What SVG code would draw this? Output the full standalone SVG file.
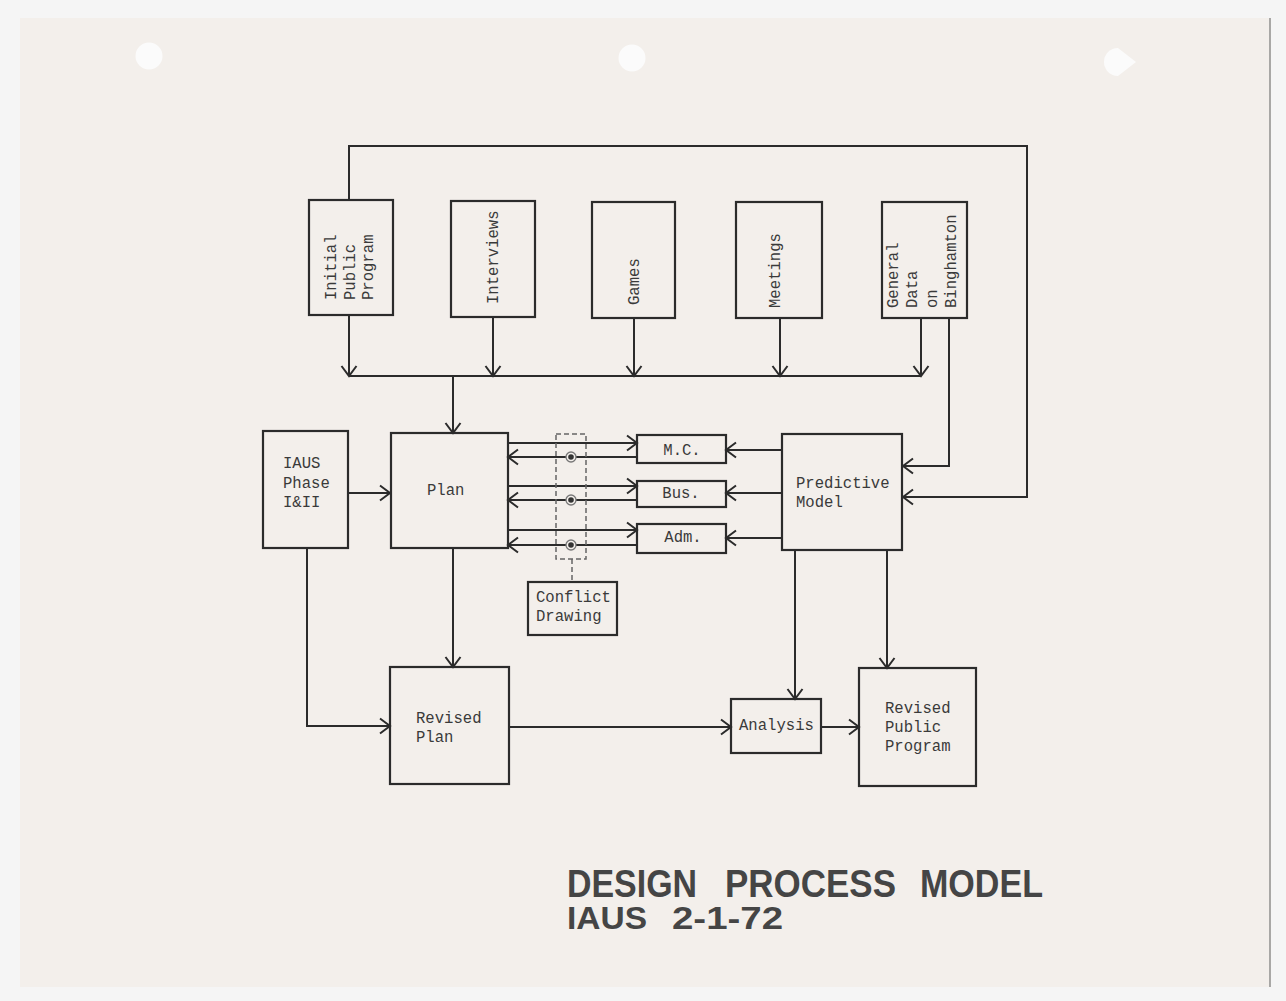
<svg xmlns="http://www.w3.org/2000/svg" width="1286" height="1001" viewBox="0 0 1286 1001">
<defs>
<marker id="arr" markerUnits="userSpaceOnUse" markerWidth="24" markerHeight="24" viewBox="-12 -12 24 24" refX="0" refY="0" orient="auto">
<path d="M-10,-7.5 L0,0 L-10,7.5" fill="none" stroke="#2b2b2b" stroke-width="2"/>
</marker>
</defs>
<style>
.box{fill:none;stroke:#2b2b2b;stroke-width:2.2}
.ln{fill:none;stroke:#2b2b2b;stroke-width:2}
.ar{marker-end:url(#arr)}
.dash{fill:none;stroke:#666;stroke-width:1.5;stroke-dasharray:5 3}
.t{font-family:"Liberation Mono","DejaVu Sans Mono",monospace;font-size:15.6px;fill:#3a3a3a}
.title{font-family:"Liberation Sans",Arial,sans-serif;font-weight:bold;fill:#454545}
</style>
<rect x="0" y="0" width="1286" height="1001" fill="#f5f5f5"/>
<rect x="20" y="18" width="1251" height="969" fill="#f3efeb"/>
<line x1="1270" y1="18" x2="1270" y2="987" stroke="#777" stroke-width="1.2"/>
<circle cx="149" cy="56" r="13.5" fill="#fbfbfb"/>
<circle cx="632" cy="58" r="13.5" fill="#fbfbfb"/>
<path d="M1118,48 A14,14 0 1 0 1118,76 L1136,62 Z" fill="#fbfbfb"/>

<g id="connectors">
<polyline class="ln ar" points="349,200 349,146 1027,146 1027,497 903,497"/>
<polyline class="ln ar" points="949,318 949,466 903,466"/>
<line class="ln ar" x1="349" y1="315" x2="349" y2="376"/>
<line class="ln ar" x1="493" y1="317" x2="493" y2="376"/>
<line class="ln ar" x1="634" y1="318" x2="634" y2="376"/>
<line class="ln ar" x1="780" y1="318" x2="780" y2="376"/>
<line class="ln ar" x1="921" y1="318" x2="921" y2="376"/>
<line class="ln" x1="349" y1="376" x2="921" y2="376"/>
<line class="ln ar" x1="453" y1="376" x2="453" y2="433"/>
<line class="ln ar" x1="348" y1="493" x2="390" y2="493"/>
<line class="ln ar" x1="508" y1="443" x2="637" y2="443"/>
<line class="ln ar" x1="637" y1="457" x2="508" y2="457"/>
<line class="ln ar" x1="508" y1="486" x2="637" y2="486"/>
<line class="ln ar" x1="637" y1="500" x2="508" y2="500"/>
<line class="ln ar" x1="508" y1="530" x2="637" y2="530"/>
<line class="ln ar" x1="637" y1="545" x2="508" y2="545"/>
<line class="ln ar" x1="782" y1="450" x2="726" y2="450"/>
<line class="ln ar" x1="782" y1="493" x2="726" y2="493"/>
<line class="ln ar" x1="782" y1="538" x2="726" y2="538"/>
<rect class="dash" x="556" y="434" width="30" height="125"/>
<line class="dash" x1="572" y1="559" x2="572" y2="582"/>
<g fill="#f3efeb" stroke="#777" stroke-width="1.3">
<circle cx="571" cy="457" r="5"/>
<circle cx="571" cy="500" r="5"/>
<circle cx="571" cy="545" r="5"/>
</g>
<g fill="#333">
<circle cx="571" cy="457" r="2.8"/>
<circle cx="571" cy="500" r="2.8"/>
<circle cx="571" cy="545" r="2.8"/>
</g>
<line class="ln ar" x1="453" y1="548" x2="453" y2="667"/>
<polyline class="ln ar" points="307,548 307,726 390,726"/>
<line class="ln ar" x1="509" y1="727" x2="731" y2="727"/>
<line class="ln ar" x1="821" y1="727" x2="859" y2="727"/>
<line class="ln ar" x1="795" y1="550" x2="795" y2="699"/>
<line class="ln ar" x1="887" y1="550" x2="887" y2="668"/>
</g>

<g id="initial-public-program">
<rect class="box" x="309" y="200" width="84" height="115"/>
<text class="t" transform="translate(336,300) rotate(-90)">Initial</text>
<text class="t" transform="translate(355,300) rotate(-90)">Public</text>
<text class="t" transform="translate(373,300) rotate(-90)">Program</text>
</g>
<g id="interviews">
<rect class="box" x="451" y="201" width="84" height="116"/>
<text class="t" transform="translate(498,304) rotate(-90)">Interviews</text>
</g>
<g id="games">
<rect class="box" x="592" y="202" width="83" height="116"/>
<text class="t" transform="translate(639,305) rotate(-90)">Games</text>
</g>
<g id="meetings">
<rect class="box" x="736" y="202" width="86" height="116"/>
<text class="t" transform="translate(780,308) rotate(-90)">Meetings</text>
</g>
<g id="general-data">
<rect class="box" x="882" y="202" width="85" height="116"/>
<text class="t" transform="translate(898,308) rotate(-90)">General</text>
<text class="t" transform="translate(917,308) rotate(-90)">Data</text>
<text class="t" transform="translate(937,308) rotate(-90)">on</text>
<text class="t" transform="translate(956,308) rotate(-90)">Binghamton</text>
</g>
<g id="iaus-phase">
<rect class="box" x="263" y="431" width="85" height="117"/>
<text class="t" x="283" y="468">IAUS</text>
<text class="t" x="283" y="488">Phase</text>
<text class="t" x="283" y="507">I&amp;II</text>
</g>
<g id="plan">
<rect class="box" x="391" y="433" width="117" height="115"/>
<text class="t" x="427" y="495">Plan</text>
</g>
<g id="mc">
<rect class="box" x="637" y="435" width="89" height="28"/>
<text class="t" x="682" y="455" text-anchor="middle">M.C.</text>
</g>
<g id="bus">
<rect class="box" x="637" y="481" width="89" height="26"/>
<text class="t" x="681" y="498" text-anchor="middle">Bus.</text>
</g>
<g id="adm">
<rect class="box" x="637" y="524" width="89" height="29"/>
<text class="t" x="683" y="542" text-anchor="middle">Adm.</text>
</g>
<g id="predictive-model">
<rect class="box" x="782" y="434" width="120" height="116"/>
<text class="t" x="796" y="488">Predictive</text>
<text class="t" x="796" y="507">Model</text>
</g>
<g id="conflict-drawing">
<rect class="box" x="528" y="582" width="89" height="53"/>
<text class="t" x="536" y="602">Conflict</text>
<text class="t" x="536" y="621">Drawing</text>
</g>
<g id="revised-plan">
<rect class="box" x="390" y="667" width="119" height="117"/>
<text class="t" x="416" y="723">Revised</text>
<text class="t" x="416" y="742">Plan</text>
</g>
<g id="analysis">
<rect class="box" x="731" y="699" width="90" height="54"/>
<text class="t" x="739" y="730">Analysis</text>
</g>
<g id="revised-public-program">
<rect class="box" x="859" y="668" width="117" height="118"/>
<text class="t" x="885" y="713">Revised</text>
<text class="t" x="885" y="732">Public</text>
<text class="t" x="885" y="751">Program</text>
</g>

<g id="title">
<text class="title" x="567" y="897" font-size="38" textLength="130" lengthAdjust="spacingAndGlyphs">DESIGN</text>
<text class="title" x="725" y="897" font-size="38" textLength="171" lengthAdjust="spacingAndGlyphs">PROCESS</text>
<text class="title" x="920" y="897" font-size="38" textLength="123" lengthAdjust="spacingAndGlyphs">MODEL</text>
<text class="title" x="567" y="929" font-size="32" textLength="80" lengthAdjust="spacingAndGlyphs">IAUS</text>
<text class="title" x="672" y="929" font-size="32" textLength="111" lengthAdjust="spacingAndGlyphs">2-1-72</text>
</g>
</svg>
